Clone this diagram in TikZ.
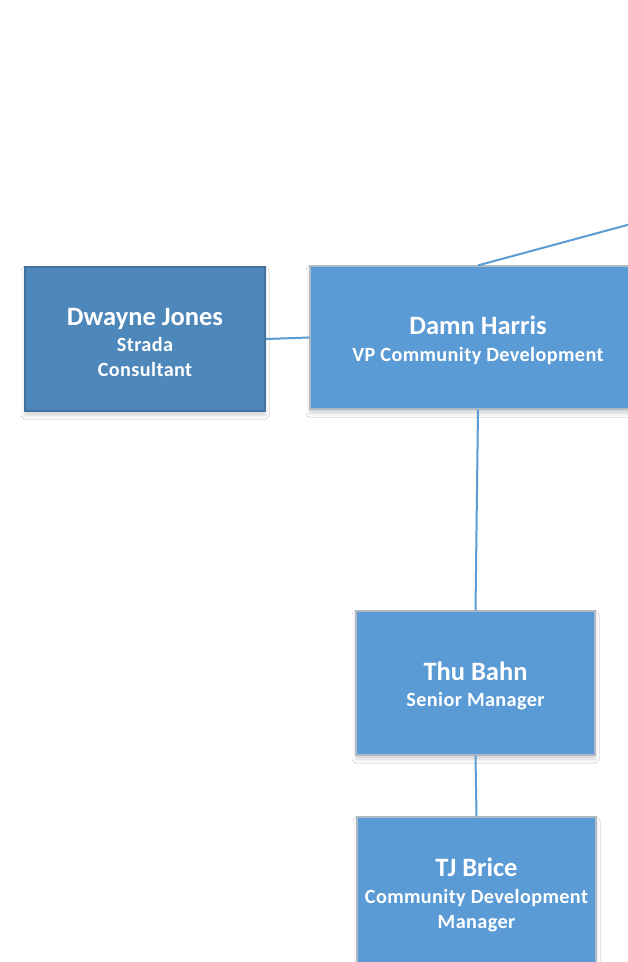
\documentclass[tikz,border=0pt]{standalone}
\usepackage{fontspec}
\setmainfont{Carlito}
\newfontfamily\subfont[LetterSpace=2]{Carlito}
\usetikzlibrary{shadows.blur}
\definecolor{boxblue}{HTML}{5B9BD5}
\definecolor{boxdark}{HTML}{4E87BA}
\definecolor{edgedark}{HTML}{41719C}
\definecolor{edgelight}{HTML}{AEB9C4}
\tikzset{
  orgbox/.style={draw=edgelight, line width=1.2pt, fill=boxblue, text=white,
    align=center, inner sep=0pt, font=\subfont\bfseries\fontsize{20.2}{25}\selectfont,
    blur shadow={shadow xshift=0pt, shadow yshift=-4pt, shadow blur radius=4pt, shadow opacity=18}},
  darkbox/.style={orgbox, draw=edgedark, fill=boxdark},
  link/.style={draw=boxblue, line width=2pt}
}
\newcommand{\pname}[1]{\rule{0pt}{24pt}{\normalfont\bfseries\fontsize{26.5}{27}\selectfont #1}\\[1.5pt]}
\begin{document}
\begin{tikzpicture}[x=1pt, y=-1pt]
  \useasboundingbox (0,0) rectangle (628,962);
  \clip (0,0) rectangle (628,962);
  \fill[white] (0,0) rectangle (628,962);

  \node[darkbox, minimum width=240pt, minimum height=144pt] (dj) at (145,339)
    {\pname{Dwayne Jones}Strada\\Consultant};
  \node[orgbox, minimum width=336pt, minimum height=143pt] (dh) at (478,337.5)
    {\pname{Damn Harris}VP Community Development};
  \node[orgbox, minimum width=239pt, minimum height=144pt] (tb) at (475.5,683)
    {\pname{Thu Bahn}Senior Manager};
  \node[orgbox, minimum width=239pt, minimum height=150pt] (tj) at (476.5,892)
    {\pname{TJ Brice}Community Development\\Manager};

  \coordinate (up) at (700,205.3);

  \draw[link] (dh.north) -- (up);
  \draw[link] (dj.east) -- (dh.west);
  \draw[link] (dh.south) -- (tb.north);
  \draw[link] (tb.south) -- (tj.north);
\end{tikzpicture}
\end{document}
